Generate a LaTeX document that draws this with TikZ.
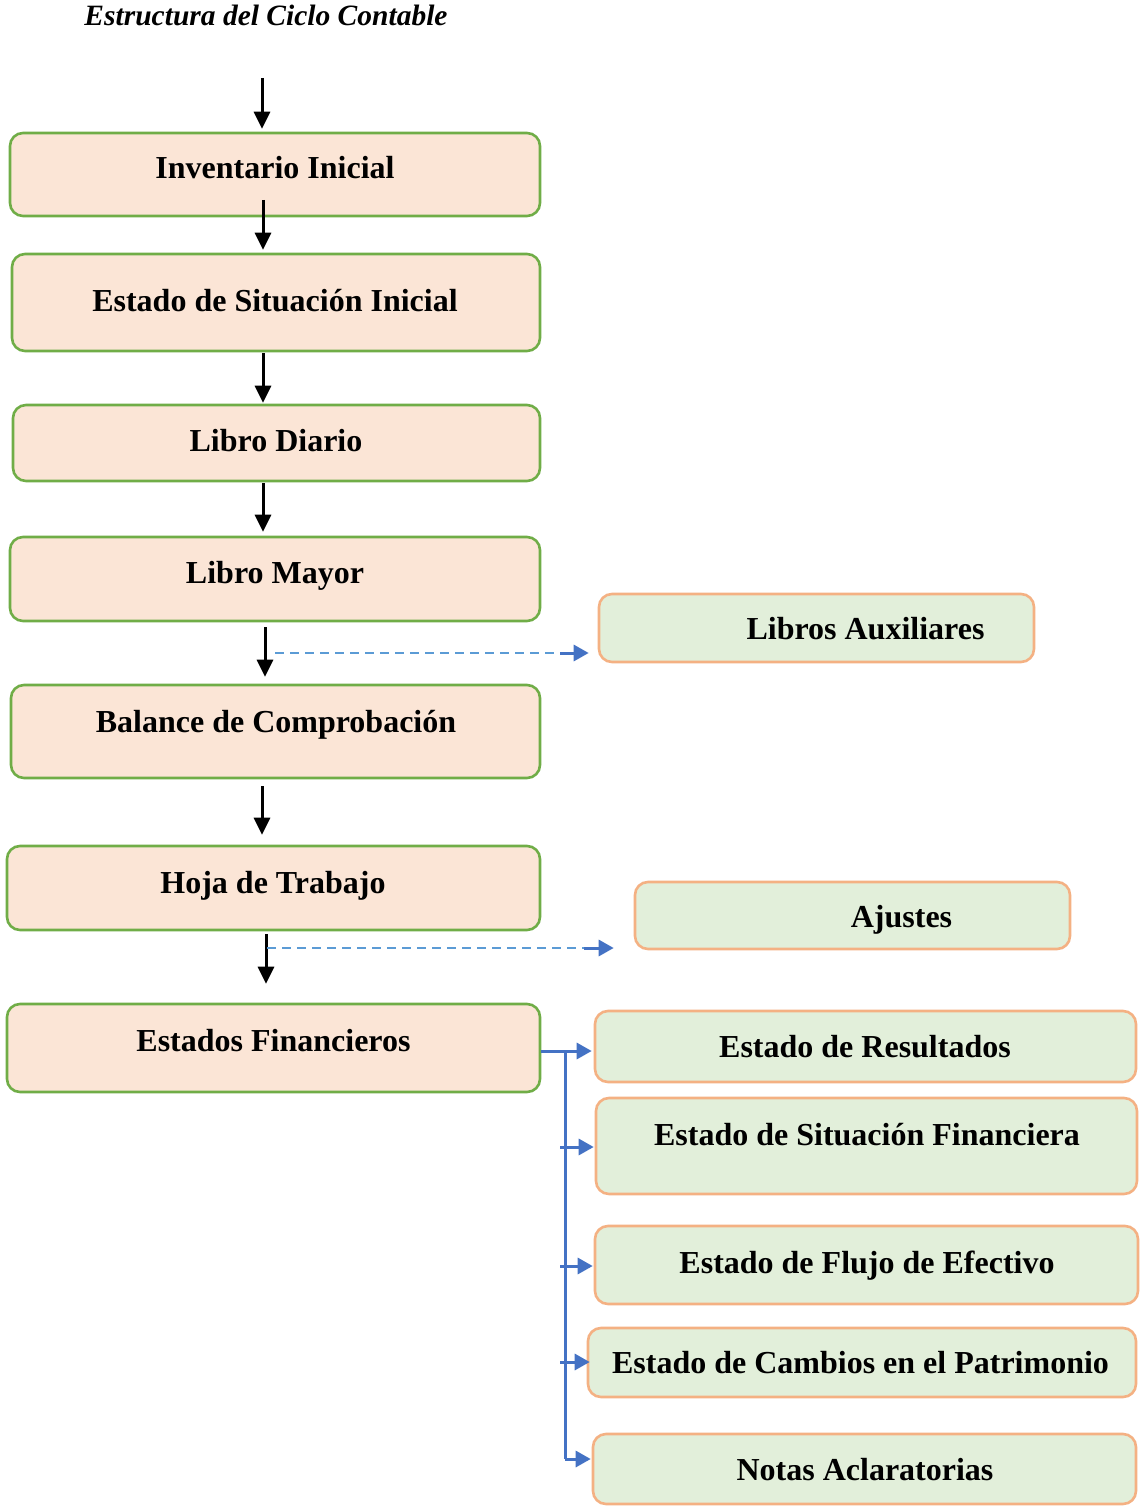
\documentclass[tikz,border=0pt]{standalone}
\usepackage{fontspec}
\setmainfont{Liberation Serif}
\usetikzlibrary{arrows.meta}
\definecolor{pfill}{HTML}{FBE5D6}
\definecolor{pdraw}{HTML}{70AD47}
\definecolor{gfill}{HTML}{E2EFDA}
\definecolor{gdraw}{HTML}{F4B183}
\definecolor{bline}{HTML}{4472C4}
\definecolor{dline}{HTML}{5B9BD5}
\tikzset{
  pbox/.style={draw=pdraw, fill=pfill, line width=2.6pt, rounded corners=13pt, inner sep=0pt},
  gbox/.style={draw=gdraw, fill=gfill, line width=2.6pt, rounded corners=13pt, inner sep=0pt},
  txt/.style={font=\fontsize{32}{36}\selectfont\bfseries, inner sep=0pt, text height=22pt, text depth=0pt},
  blk/.style={line width=3pt, -{Triangle[length=17pt,width=16pt]}},
  dsh/.style={dline, line width=2pt, dash pattern=on 9pt off 6pt},
  bla/.style={bline, line width=3pt, -{Triangle[length=15pt,width=16pt]}},
  blu/.style={bline, line width=3pt}
}
\begin{document}
\begin{tikzpicture}[x=1pt,y=-1pt]
\useasboundingbox (0,0) rectangle (1140,1506);
\fill[white] (0,0) rectangle (1140,1506);
\node[font=\fontsize{29.5}{34}\selectfont\bfseries\itshape, inner sep=0pt, text height=20pt, text depth=0pt] (title) at (266,16) {Estructura del Ciclo Contable};

% left column boxes
\node[pbox, minimum width=530pt, minimum height=83pt] (b1) at (275,174.5) {};
\node[txt] (t1) at (275,168) {Inventario Inicial};
\node[pbox, minimum width=528pt, minimum height=97pt] (b2) at (276,302.5) {};
\node[txt] (t2) at (275,300) {Estado de Situación Inicial};
\node[pbox, minimum width=527pt, minimum height=76pt] (b3) at (276.5,443) {};
\node[txt] (t3) at (276,440) {Libro Diario};
\node[pbox, minimum width=530pt, minimum height=84pt] (b4) at (275,579) {};
\node[txt] (t4) at (275,572) {Libro Mayor};
\node[pbox, minimum width=529pt, minimum height=93pt] (b5) at (275.5,731.5) {};
\node[txt] (t5) at (276,721) {Balance de Comprobación};
\node[pbox, minimum width=533pt, minimum height=84pt] (b6) at (273.5,888) {};
\node[txt] (t6) at (273,882) {Hoja de Trabajo};
\node[pbox, minimum width=533pt, minimum height=88pt] (b7) at (273.5,1048) {};
\node[txt] (t7) at (273.5,1040) {Estados Financieros};

% right boxes
\node[gbox, minimum width=435pt, minimum height=68pt] (r1) at (816.5,628) {};
\node[txt] (s1) at (865.5,628) {Libros Auxiliares};
\node[gbox, minimum width=435pt, minimum height=67pt] (r2) at (852.5,915.5) {};
\node[txt] (s2) at (901.5,916) {Ajustes};
\node[gbox, minimum width=541pt, minimum height=71pt] (r3) at (865.5,1046.5) {};
\node[txt] (s3) at (865,1046) {Estado de Resultados};
\node[gbox, minimum width=541pt, minimum height=96pt] (r4) at (866.5,1146) {};
\node[txt] (s4) at (867,1134) {Estado de Situación Financiera};
\node[gbox, minimum width=543pt, minimum height=78pt] (r5) at (866.5,1265) {};
\node[txt] (s5) at (867,1262) {Estado de Flujo de Efectivo};
\node[gbox, minimum width=548pt, minimum height=69pt] (r6) at (862,1362.5) {};
\node[txt] (s6) at (860.5,1362) {Estado de Cambios en el Patrimonio};
\node[gbox, minimum width=543pt, minimum height=70pt] (r7) at (864.5,1469) {};
\node[txt] (s7) at (865,1469) {Notas Aclaratorias};

% black arrows
\coordinate (a1) at (262,78);
\draw[blk, shorten >=3pt] (a1) -- (a1 |- b1.north);
\coordinate (a2) at (263,200);
\draw[blk, shorten >=3pt] (a2) -- (a2 |- b2.north);
\coordinate (a3) at (263,353);
\draw[blk, shorten >=1pt] (a3) -- (a3 |- b3.north);
\coordinate (a4) at (263,483);
\draw[blk, shorten >=4pt] (a4) -- (a4 |- b4.north);
\coordinate (a5) at (265,627);
\draw[blk, shorten >=7pt] (a5) -- (a5 |- b5.north);
\coordinate (a6) at (262,786);
\draw[blk, shorten >=10pt] (a6) -- (a6 |- b6.north);
\coordinate (a7) at (266,934);
\draw[blk, shorten >=19pt] (a7) -- (a7 |- b7.north);

% dashed arrows
\coordinate (d1) at (275,653);
\coordinate (d1e) at (560,653);
\draw[dsh] (d1) -- (d1e);
\draw[bla, shorten >=9pt] (d1e) -- (d1e -| r1.west);
\coordinate (d2) at (267,948);
\coordinate (d2e) at (584,948);
\draw[dsh] (d2) -- (d2e);
\draw[bla, shorten >=20pt] (d2e) -- (d2e -| r2.west);

% blue bracket
\coordinate (v0) at (565,1051);
\coordinate (v1) at (565,1147);
\coordinate (v2) at (565,1266);
\coordinate (v3) at (565,1362);
\coordinate (v4) at (565,1459);
\draw[bla, shorten >=2pt] (b7.east |- v0) -- (v0 -| r3.west);
\draw[blu] (v0) -- (v4);
\draw[bla, shorten >=1pt] (560,1147) -- (v1 -| r4.west);
\draw[bla, shorten >=1pt] (560,1266) -- (v2 -| r5.west);
\draw[bla, shorten >=-3pt] (560,1362) -- (v3 -| r6.west);
\draw[bla, shorten >=1pt] (v4) -- (v4 -| r7.west);
\end{tikzpicture}
\end{document}
